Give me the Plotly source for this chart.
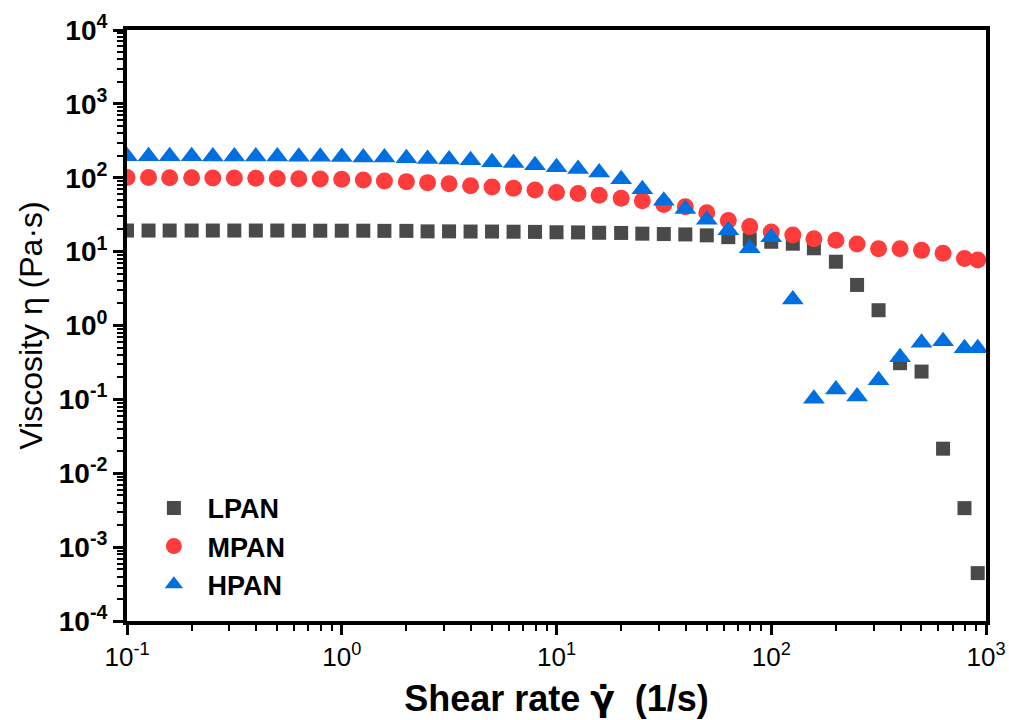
import plotly.graph_objects as go

# ---- data ----
shear_rate = [0.1, 0.126, 0.158, 0.2, 0.251, 0.316, 0.398, 0.501, 0.631, 0.794,
              1.0, 1.26, 1.58, 2.0, 2.51, 3.16, 3.98, 5.01, 6.31, 7.94,
              10.0, 12.6, 15.8, 20.0, 25.1, 31.6, 39.8, 50.1, 63.1, 79.4,
              100, 126, 158, 200, 251, 316, 398, 501, 631, 794, 915]

lpan = [19.3, 19.3, 19.3, 19.3, 19.3, 19.3, 19.3, 19.3, 19.2, 19.2,
        19.2, 19.2, 19.1, 19.1, 18.8, 18.8, 18.7, 18.7, 18.6, 18.5,
        18.3, 18.2, 18.0, 17.9, 17.5, 17.3, 17.1, 16.6, 15.7, 14.6,
        13.6, 12.8, 11.1, 7.3, 3.54, 1.61, 0.309, 0.238, 0.0215, 0.00337, 0.000445]

mpan = [101, 101, 100, 100, 99.5, 99, 98.5, 98, 97, 96,
        95.5, 93, 90.6, 88.6, 85.9, 83.2, 78.2, 75, 72, 68.4,
        63, 61, 58, 52.8, 48.8, 43.5, 40.6, 33.6, 26.3, 21.8,
        18.4, 16.8, 14.9, 14.3, 12.7, 10.9, 10.9, 10.4, 9.5, 8.1, 7.7]

hpan = [195, 195, 195, 195, 194, 194, 194, 194, 193, 192,
        191, 188, 188, 184, 180, 177, 173, 162, 158, 148,
        139, 131, 118, 95.5, 70, 48.9, 37.8, 27, 19.5, 11.1,
        15.7, 2.25, 0.102, 0.136, 0.109, 0.182, 0.372, 0.585, 0.61, 0.494, 0.494]

series_names = ["LPAN", "MPAN", "HPAN"]

y_tickvals = [1e-4, 1e-3, 1e-2, 1e-1, 1, 10, 100, 1000, 10000]
y_ticktext = ["10<sup>-4</sup>", "10<sup>-3</sup>", "10<sup>-2</sup>", "10<sup>-1</sup>",
              "10<sup>0</sup>", "10<sup>1</sup>", "10<sup>2</sup>", "10<sup>3</sup>", "10<sup>4</sup>"]
x_tickvals = [0.1, 1, 10, 100, 1000]
x_ticktext = ["10<sup>-1</sup>", "10<sup>0</sup>", "10<sup>1</sup>", "10<sup>2</sup>", "10<sup>3</sup>"]

ARIAL = "Arial, Liberation Sans, sans-serif"

fig = go.Figure()
styles = [
    dict(symbol="square", color="#4a4a4a", size=14),
    dict(symbol="circle", color="#ff3c3c", size=17),
    dict(symbol="triangle-up", color="#0070e0", size=19),
]
for name, vals, st in zip(series_names, [lpan, mpan, hpan], styles):
    fig.add_trace(go.Scatter(
        x=shear_rate, y=vals, mode="markers", name=name, legendgroup=name,
        marker=dict(symbol=st["symbol"], color=st["color"], size=st["size"],
                    line=dict(width=0)),
    ))

fig.update_layout(
    width=1009, height=720,
    margin=dict(l=127, r=23, t=30, b=99, autoexpand=False),
    paper_bgcolor="white", plot_bgcolor="white",
    showlegend=True,
    legend=dict(x=0.0156, y=0.232, xanchor="left", yanchor="top",
                bgcolor="rgba(0,0,0,0)", tracegroupgap=0, itemwidth=57,
                font=dict(family=ARIAL, size=27, color="black", weight="bold")),
    xaxis=dict(
        type="log", range=[-1, 3], automargin=False,
        tickmode="array", tickvals=x_tickvals, ticktext=x_ticktext,
        ticks="outside", ticklen=10, tickwidth=3, tickcolor="black",
        showline=True, linewidth=4, linecolor="black", mirror=True,
        showgrid=False, zeroline=False,
        tickfont=dict(family=ARIAL, size=26, color="black"),
        minor=dict(ticks="outside", ticklen=6, tickwidth=2, tickcolor="black",
                   dtick="D1", showgrid=False),
        title=dict(text="Shear rate <span style=\"font-family:DejaVu Sans\">γ̇</span>  (1/s)",
                   standoff=16,
                   font=dict(family=ARIAL, size=36, color="black", weight="bold")),
    ),
    yaxis=dict(
        type="log", range=[-4, 4], automargin=False,
        tickmode="array", tickvals=y_tickvals, ticktext=y_ticktext,
        ticks="outside", ticklen=10, tickwidth=3, tickcolor="black",
        showline=True, linewidth=4, linecolor="black", mirror=True,
        showgrid=False, zeroline=False,
        tickfont=dict(family=ARIAL, size=28, color="black", weight="bold"),
        minor=dict(ticks="outside", ticklen=6, tickwidth=2, tickcolor="black",
                   dtick="D1", showgrid=False),
        title=dict(text="Viscosity η (Pa·s)", standoff=8,
                   font=dict(family=ARIAL, size=32, color="black")),
    ),
)

fig.write_html("out.html")
